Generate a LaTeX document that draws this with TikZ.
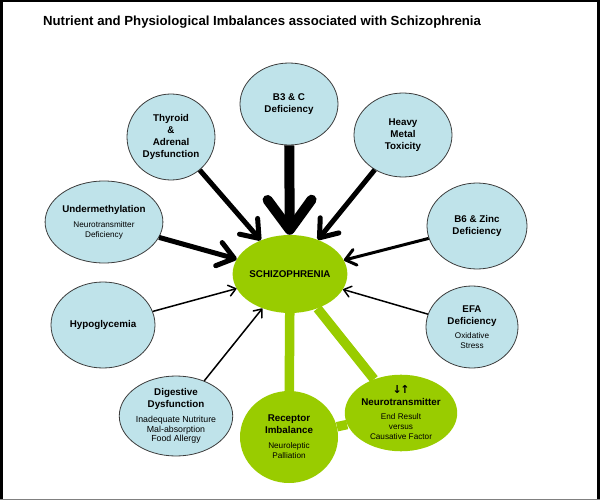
\documentclass[tikz,border=0pt]{standalone}
\usepackage{fontspec}
\setmainfont{Liberation Sans}
\newfontfamily\arrowfont{DejaVu Sans}
\usetikzlibrary{shapes.geometric, arrows.meta, backgrounds}
\definecolor{bubblefill}{RGB}{191,227,234}
\definecolor{lime}{RGB}{153,204,0}
\definecolor{rim}{RGB}{60,60,60}
\newcommand{\subnote}[1]{{\fontsize{8.2}{10}\mdseries\selectfont #1}}
\newcommand{\bignote}[1]{{\fontsize{8.8}{10}\mdseries\selectfont #1}}
\tikzset{
  bubble/.style={ellipse, draw=rim, line width=0.8pt, fill=bubblefill,
    inner sep=0pt, align=center, font=\fontsize{9.8}{12}\bfseries\selectfont},
  core/.style={ellipse, fill=lime, inner sep=0pt, align=center,
    font=\fontsize{9.8}{12}\bfseries\selectfont},
  link/.style={line width=9.5pt, draw=lime},
  hugearrow/.style={line width=10pt, -{Straight Barb[length=30pt,width=44pt,round]}},
  boldarrow/.style={line width=5pt, -{Straight Barb[length=16pt,width=24pt,round]}},
  midarrow/.style={line width=3pt, -{Straight Barb[length=10pt,width=16pt,round]}},
  thinarrow/.style={line width=1.5pt, -{Straight Barb[length=7pt,width=11pt,round]}},
}

\begin{document}
\begin{tikzpicture}[x=1pt, y=-1pt]
  \useasboundingbox (0,0) rectangle (600,503);
  \node[font=\fontsize{13.2}{15}\bfseries\selectfont] (title) at (262,22)
    {Nutrient and Physiological Imbalances associated with Schizophrenia};

  % centre and the green pair
  \node[core, minimum width=100pt, minimum height=78pt] (schizo) at (290,274) {SCHIZOPHRENIA};
  \node[core, minimum width=98pt, minimum height=92pt] (receptor) at (289,437)
    {Receptor\\Imbalance\\[3pt]\subnote{Neuroleptic}\\[-2pt]\subnote{Palliation}};
  \node[core, minimum width=94pt, minimum height=76pt] (neuro) at (401,413)
    {{\arrowfont\fontsize{11}{12}\bfseries\selectfont ↓\kern-1.5pt↑}\\Neurotransmitter\\[2pt]\subnote{End Result}\\[-2pt]\subnote{versus}\\[-2pt]\subnote{Causative Factor}};

  % outer ring
  \node[bubble, minimum width=98pt, minimum height=82pt] (b3c) at (289,104) {B3 \& C\\Deficiency};
  \node[bubble, minimum width=88pt, minimum height=86pt] (thyroid) at (171,137)
    {Thyroid\\\&\\Adrenal\\Dysfunction};
  \node[bubble, minimum width=98pt, minimum height=84pt] (heavy) at (403,135) {Heavy\\Metal\\Toxicity};
  \node[bubble, minimum width=102pt, minimum height=82pt] (under) at (104,222)
    {Undermethylation\\[3pt]\subnote{Neurotransmitter}\\[-2pt]\subnote{Deficiency}};
  \node[bubble, minimum width=100pt, minimum height=86pt] (bsix) at (477,226) {B6 \& Zinc\\Deficiency};
  \node[bubble, minimum width=104pt, minimum height=86pt] (hypo) at (103,325) {Hypoglycemia};
  \node[bubble, minimum width=92pt, minimum height=82pt] (efa) at (472,327)
    {EFA\\Deficiency\\[2pt]\subnote{Oxidative}\\[-2pt]\subnote{Stress}};
  \node[bubble, minimum width=102pt, minimum height=80pt] (digest) at (176,416)
    {Digestive\\Dysfunction\\[3pt]\bignote{Inadequate Nutriture}\\[-2.5pt]\bignote{Mal-absorption}\\[-2.5pt]\bignote{Food Allergy}};

  % green links behind the nodes
  \begin{scope}[on background layer]
    \draw[link] (schizo) -- (receptor);
    \draw[link] (schizo) -- (neuro);
    \draw[link] (receptor) -- (neuro);
  \end{scope}

  \foreach \f/\s in {b3c/hugearrow, thyroid/boldarrow, heavy/boldarrow, under/boldarrow,
                     bsix/midarrow, hypo/thinarrow, efa/thinarrow, digest/thinarrow}
    \draw[\s] (\f) -- (schizo);

  % frame
  \fill[black] (0,0) rectangle (600,2);
  \fill[black] (0,0) rectangle (2.5,500);
  \fill[black] (596.5,0) rectangle (600,500);
  \draw[gray, line width=1pt] (0,499.5) -- (600,499.5);
\end{tikzpicture}
\end{document}
